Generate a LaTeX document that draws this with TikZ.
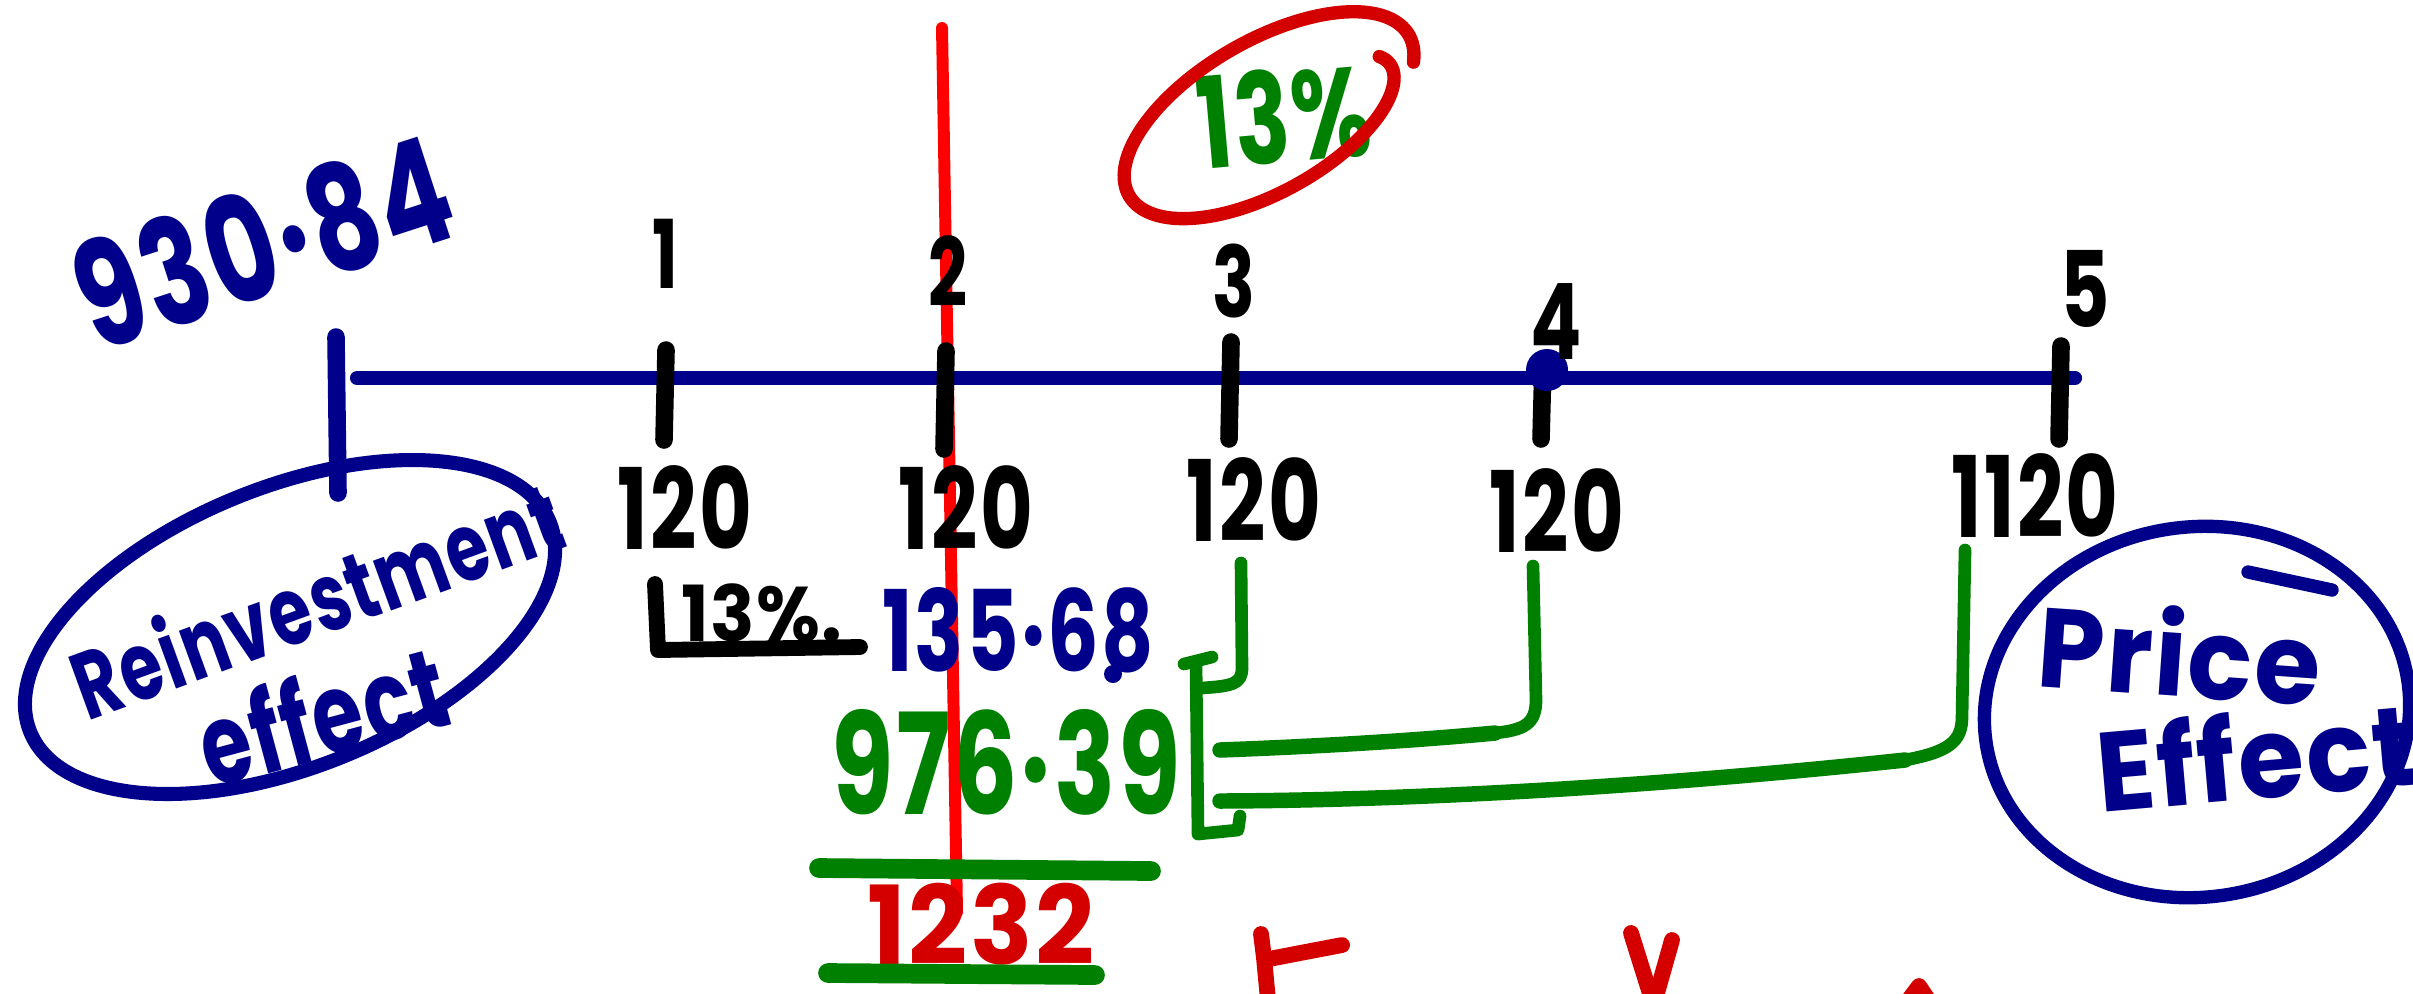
\documentclass[tikz,border=0pt]{standalone}
\usepackage{fontspec}
\setmainfont{Poppins}
\newfontfamily\hand[FakeStretch=0.72,LetterSpace=2]{Poppins}
\newfontfamily\handw[FakeStretch=0.95,LetterSpace=2]{Poppins}
\newcommand\fs[1]{\fontsize{#1}{#1}\selectfont}
\definecolor{inkblue}{RGB}{0,0,139}
\definecolor{inkgreen}{RGB}{0,128,0}
\definecolor{inkred}{RGB}{212,0,0}
\definecolor{linered}{RGB}{255,0,0}
\begin{document}
\begin{tikzpicture}[x=0.01cm,y=-0.01cm,line cap=round,line join=round,
  lbl/.style={inner sep=0pt,outer sep=0pt},
  num/.style={lbl,text=black,font=\hand\bfseries\fs{#1}},
  tickmark/.style={black,line width=5pt},
  wire/.style={inkgreen,line width=3.6pt},
  wirebold/.style={inkgreen,line width=4.4pt},
  loop/.style={line width=4pt},
  declare function={sc(\u)=1-0.2*exp(-\u/30)+0.03*\u/376;}]
\useasboundingbox (0,0) rectangle (2413,993);
\fill[white] (0,0) rectangle (2413,993);

% red marker through year 2
\draw[linered,line width=3.4pt] (942,28) -- (957,912);

% time line
\draw[inkblue,line width=4pt] (357,378) -- (2075,378);
\draw[inkblue,line width=5pt] (336,337) -- (338,493);
\foreach \x/\a/\b in {666/350/440,946/351/449,1231/342/439,1543/362/439,2061/346/439}
  \draw[tickmark] (\x,\a) -- (\x-2,\b);
\fill[inkblue] (1547,370) circle (0.21cm);

% present value
\node[lbl,text=inkblue,font=\hand\bfseries\fs{42pt},rotate=18] (pv) at (263,242) {930·84};

% years
\node[num=27pt] (y1) at (665,254) {1};
\node[num=27pt] (y2) at (948,271) {2};
\node[num=28pt] (y3) at (1234,281) {3};
\node[num=30pt] (y4) at (1556,322) {4};
\node[num=30pt] (y5) at (2085,289) {5};

% cash flows
\node[num=32pt] (c1) at (685,508) {120};
\node[num=32pt] (c2) at (966,508) {120};
\node[num=32pt] (c3) at (1254,500) {120};
\node[num=32pt] (c4) at (1557,511) {120};
\node[num=32pt] (c5) at (2035,496) {1120};

% yield circled in red
\node[lbl,text=inkgreen,font=\hand\bfseries\fs{36pt},rotate=5] (ytm) at (1284,116) {13\%};
\draw[inkred,line width=3.8pt] plot[domain=0:376,samples=140,smooth]
  ({1268+(158*cos(-4-\x)*cos(30)-74*sin(-4-\x)*sin(30))*sc(\x)},
   {116-(158*cos(-4-\x)*sin(30)+74*sin(-4-\x)*cos(30))*sc(\x)});

% compounding the year-1 flow
\node[lbl,text=black,font=\handw\bfseries\fs{22pt}] (rate) at (762,613) {13\%.};
\draw[black,line width=4.5pt] (655,584) -- (658,650) -- (860,647);
\node[lbl,text=inkblue,font=\hand\bfseries\fs{32pt}] (fv1) at (1018,630) {135·68};
\fill[inkblue] (1113,674) circle (0.09cm);
\node[lbl,text=inkgreen,font=\hand\bfseries\fs{40pt}] (pvrest) at (1006,762) {976·39};
\draw[inkgreen,line width=5.6pt] (819,868) -- (1151,871);
\node[lbl,text=inkred,font=\handw\bfseries\fs{31pt}] (total) at (981,924) {1232};
\draw[inkgreen,line width=5.6pt] (828,973) -- (1095,975);

% green bracket collecting years 3 to 5
\coordinate (g3) at (1241,563);
\coordinate (g4) at (1533,566);
\coordinate (g5) at (1965,550);
\coordinate (b3) at (1202,688);
\coordinate (b4) at (1220,750);
\coordinate (b5) at (1220,801);
\draw[wire] (1184,664) -- (1212,657);
\draw[wire] (1196,664) -- (1198,834) -- (1238,830) -- (1240,816);
\draw[wire] (g3) -- (1242,668) .. controls (1242,684) and (1232,686) .. (b3);
\draw[wire] (g4) -- (1536,700) .. controls (1536,724) and (1524,730) .. (1495,733);
\draw[wirebold] (1495,733) .. controls (1400,742) and (1300,747) .. (b4);
\draw[wire] (g5) -- (1962,717) .. controls (1962,742) and (1948,752) .. (1905,760);
\draw[wirebold] (1905,760) .. controls (1700,782) and (1450,800) .. (b5);

% reinvestment effect
\draw[inkblue,loop] (290,627) ellipse[x radius=2.8cm,y radius=1.4cm,rotate=22];
\node[lbl,text=inkblue,font=\hand\bfseries\fs{27pt},rotate=20] (reinv) at (316,598) {Reinvestment};
\node[lbl,text=inkblue,font=\hand\bfseries\fs{32pt},rotate=15] (eff1) at (322,714) {effect};

% price effect
\draw[inkblue,line width=3.8pt] (2197,712) ellipse[x radius=2.13cm,y radius=1.85cm,rotate=8];
\draw[inkblue,line width=3.8pt] (2248,572) -- (2332,590);
\node[lbl,text=inkblue,font=\handw\bfseries\fs{32pt},rotate=-4] (price) at (2180,652) {Price};
\node[lbl,text=inkblue,font=\handw\bfseries\fs{32pt},rotate=5] (eff2) at (2256,755) {Effect};

% strokes of the next line, cut by the edge
\draw[inkred,line width=4.5pt] (1261,934) -- (1264,958) -- (1268,1000);
\draw[inkred,line width=4.5pt] (1274,958) -- (1342,945);
\draw[inkred,line width=4.5pt] (1631,933) -- (1652,1000);
\draw[inkred,line width=4.5pt] (1672,940) -- (1655,1000);
\draw[inkred,line width=4.5pt] (1910,998) -- (1919,986) -- (1927,998);
\end{tikzpicture}
\end{document}
